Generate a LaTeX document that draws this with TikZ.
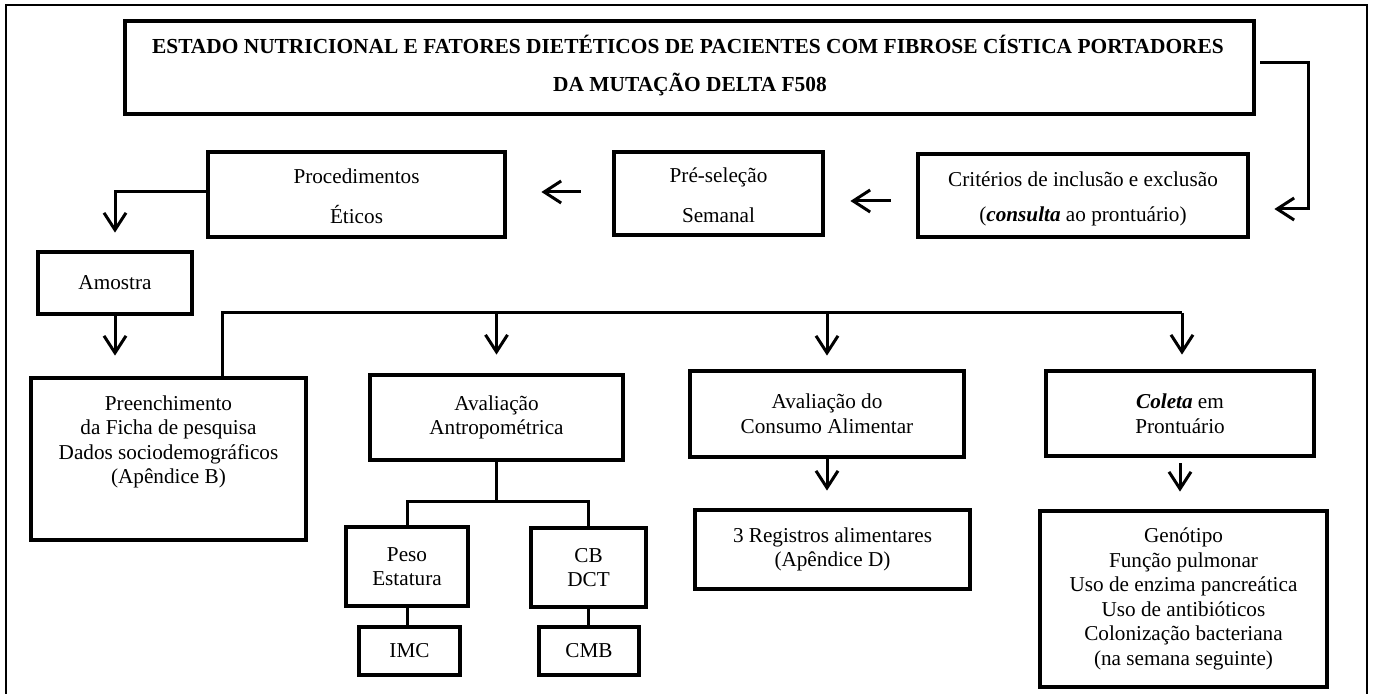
\documentclass[tikz,border=0pt]{standalone}
\usepackage{fontspec}
\setmainfont{Liberation Serif}
\usetikzlibrary{arrows.meta,fit}
\begin{document}
\begin{tikzpicture}[x=0.5pt,y=-0.5pt,
  box/.style={draw,line width=2.4pt,inner sep=0pt},
  txt/.style={align=center,font=\fontsize{10.6pt}{12.3pt}\selectfont,inner sep=0pt},
  txtw/.style={align=center,font=\fontsize{10.6pt}{17.5pt}\selectfont,inner sep=0pt},
  txtww/.style={align=center,font=\fontsize{10.6pt}{20pt}\selectfont,inner sep=0pt},
  ttl/.style={font=\fontsize{10.7pt}{17pt}\selectfont\bfseries,inner sep=0pt,anchor=base},
  conn/.style={line width=1.5pt},
  arr/.style={line width=1.5pt,-{Straight Barb[length=8.5pt,width=11pt,line width=1.5pt]}}
]
\useasboundingbox (0,0) rectangle (1373,694);
% outer frame
\draw[line width=1pt] (6,5) rectangle (1367,730);

% boxes
\node[box,fit={(125,21) (1254,114)}] (title) {};
\node[box,fit={(918,154) (1248,237)}] (crit) {};
\node[box,fit={(614,152) (823,235)}] (pre) {};
\node[box,fit={(208,152) (505,237)}] (proc) {};
\node[box,fit={(38,252) (192,314)}] (amo) {};
\node[box,fit={(31,378) (306,540)}] (preen) {};
\node[box,fit={(370,375) (623,460)}] (aa) {};
\node[box,fit={(690,371) (964,457)}] (cons) {};
\node[box,fit={(1046,371) (1314,456)}] (col) {};
\node[box,fit={(695,510) (970,589)}] (reg) {};
\node[box,fit={(1040,511) (1327,687)}] (gen) {};
\node[box,fit={(346,527) (468,606)}] (peso) {};
\node[box,fit={(531,528) (646,607)}] (cb) {};
\node[box,fit={(359,627) (460,675)}] (imc) {};
\node[box,fit={(539,627) (639,675)}] (cmb) {};

% texts
\node[ttl] (t1) at (688,54) {ESTADO NUTRICIONAL E FATORES DIETÉTICOS DE PACIENTES COM FIBROSE CÍSTICA PORTADORES};
\node[ttl] (t2) at (690,92) {DA MUTAÇÃO DELTA F508};
\node[txtw] (critt) at ([yshift=-1.5pt]crit.center) {Critérios de inclusão e exclusão\\(\textbf{\textit{consulta}} ao prontuário)};
\node[txtww] (pret) at ([yshift=-1pt]pre.center) {Pré-seleção\\Semanal};
\node[txtww] (proct) at ([yshift=-1pt]proc.center) {Procedimentos\\Éticos};
\node[txt] (amot) at (amo.center) {Amostra};
\node[txt] (preent) at (168.5,442) {Preenchimento\\da Ficha de pesquisa\\Dados sociodemográficos\\(Apêndice B)};
\node[txt] (aat) at (aa.center) {Avaliação\\Antropométrica};
\node[txt] (const) at (cons.center) {Avaliação do\\Consumo Alimentar};
\node[txt] (colt) at (col.center) {\textbf{\textit{Coleta}} em\\Prontuário};
\node[txt] (regt) at (reg.center) {3 Registros alimentares\\(Apêndice D)};
\node[txt] (gent) at (gen.center) {Genótipo\\Função pulmonar\\Uso de enzima pancreática\\Uso de antibióticos\\Colonização bacteriana\\(na semana seguinte)};
\node[txt] (pesot) at (peso.center) {Peso\\Estatura};
\node[txt] (cbt) at (cb.center) {CB\\DCT};
\node[txt] (imct) at (imc.center) {IMC};
\node[txt] (cmbt) at (cmb.center) {CMB};

% connectors
\coordinate (ya) at (0,63);
\coordinate (c1) at (1308,209);
\coordinate (y2) at (0,201);
\coordinate (y1) at (0,192);
\draw[arr] ([xshift=2pt]title.east |- ya) -| (c1) -- ([xshift=12pt]crit.east |- c1);
\draw[arr,shorten <=12.5pt,shorten >=12.5pt] (crit.west |- y2) -- (pre.east |- y2);
\draw[arr,shorten <=15.5pt,shorten >=17pt] (pre.west |- y1) -- (proc.east |- y1);
\draw[arr,shorten >=8.5pt] (proc.west |- y1) -| (amo.north);
\draw[arr,shorten >=10pt] (amo.south) -- (amo.south |- preen.north);
\coordinate (barL) at (222,313);
\coordinate (barR) at (1182,313);
\draw[conn] (barL |- preen.north) -- (barL) -- (barR);
\draw[arr,shorten >=9pt] (barL -| aa.north) -- (aa.north);
\draw[arr,shorten >=6.5pt] (barL -| cons.north) -- (cons.north);
\draw[arr,shorten >=7pt] (barR) -- (barR |- col.north);
\draw[arr,shorten >=8.5pt] (cons.south) -- (cons.south |- reg.north);
\draw[arr,shorten <=2.5pt,shorten >=8.5pt] (col.south) -- (col.south |- gen.north);
\coordinate (aj) at (496.5,502);
\draw[conn] (aa.south) -- (aj);
\draw[conn] (peso.north) |- (aj) -| (cb.north);
\draw[conn] (peso.south) -- (peso.south |- imc.north);
\draw[conn] (cb.south) -- (cb.south |- cmb.north);
\end{tikzpicture}
\end{document}
